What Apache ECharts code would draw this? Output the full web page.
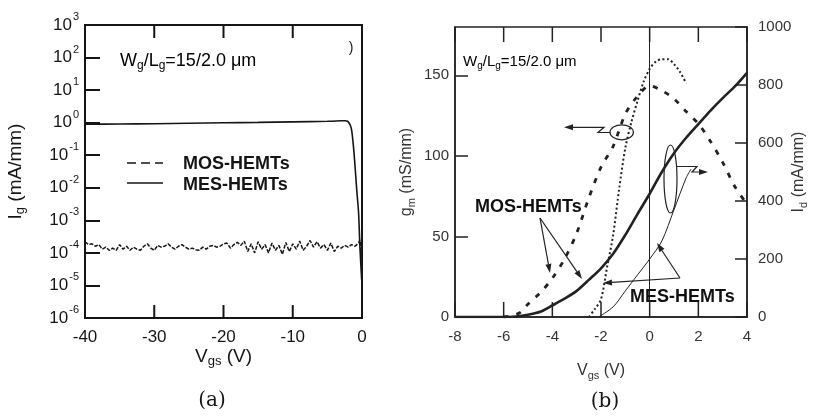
<!DOCTYPE html>
<html>
<head>
<meta charset="utf-8">
<script src="https://cdn.jsdelivr.net/npm/echarts@6/dist/echarts.min.js"></script>
<style>
  html, body { margin: 0; padding: 0; background: #fff; }
  #wrap { position: relative; width: 816px; height: 417px; }
  #chartA { position: absolute; left: 0; top: 0; width: 816px; height: 417px; }
  #chartB { position: absolute; left: 380px; top: 0; width: 436px; height: 392px; filter: blur(0.5px); }
</style>
</head>
<body>
<div id="wrap"><div id="chartA"></div><div id="chartB"></div></div>
<script>
// ---------- (a) gate leakage current Ig versus Vgs ----------
const igXTicks = [-40, -30, -20, -10, 0];

const igMosVgs = [
  -40, -39.5, -39, -38.5, -38, -37.5, -37, -36.5, -36, -35.5,
  -35, -34.5, -34, -33.5, -33, -32.5, -32, -31.5, -31, -30.5,
  -30, -29.5, -29, -28.5, -28, -27.5, -27, -26.5, -26, -25.5,
  -25, -24.5, -24, -23.5, -23, -22.5, -22, -21.5, -21, -20.5,
  -20, -19.5, -19, -18.5, -18, -17.5, -17, -16.5, -16, -15.5,
  -15, -14.5, -14, -13.5, -13, -12.5, -12, -11.5, -11, -10.5,
  -10, -9.5, -9, -8.5, -8, -7.5, -7, -6.5, -6, -5.5,
  -5, -4.5, -4, -3.5, -3, -2.5, -2, -1.5, -1, -0.5,
  -0.3, -0.1, 0
];
const igMos = [
  2.2e-4, 1.8e-4, 1.9e-4, 1.6e-4, 1.8e-4, 1.3e-4, 1.5e-4, 1.2e-4, 1.4e-4, 1.2e-4,
  1.8e-4, 1.3e-4, 1.6e-4, 1.2e-4, 1.5e-4, 1.3e-4, 1.2e-4, 1.6e-4, 1.9e-4, 1.4e-4,
  1.2e-4, 1.7e-4, 1.5e-4, 1.6e-4, 1.9e-4, 1.5e-4, 1.3e-4, 1.6e-4, 1.8e-4, 1.5e-4,
  1.3e-4, 1.4e-4, 1.25e-4, 1.2e-4, 1.5e-4, 1.3e-4, 1.6e-4, 1.7e-4, 1.5e-4, 1.6e-4,
  1.9e-4, 2.0e-4, 1.4e-4, 1.8e-4, 2.1e-4, 1.7e-4, 2.3e-4, 1.1e-4, 1.9e-4, 1.0e-4,
  2.2e-4, 1.3e-4, 1.8e-4, 1.0e-4, 2.0e-4, 1.2e-4, 1.7e-4, 0.9e-4, 2.1e-4, 1.1e-4,
  1.9e-4, 1.3e-4, 2.3e-4, 1.2e-4, 1.6e-4, 2.4e-4, 1.5e-4, 2.2e-4, 1.4e-4, 1.8e-4,
  1.2e-4, 2.0e-4, 1.1e-4, 1.6e-4, 1.4e-4, 1.7e-4, 1.5e-4, 1.8e-4, 1.6e-4, 2.0e-4,
  2.5e-4, 1.0e-4, 0.2e-4
];

const igMesVgs = [-40, -35, -30, -25, -20, -15, -10, -5, -3, -2.4, -2.1, -1.9, -1.7, -1.5, -1.25, -1.0, -0.75, -0.5, -0.3, -0.05];
const igMes = [0.89, 0.91, 0.93, 0.96, 0.99, 1.02, 1.06, 1.1, 1.14, 1.15, 1.1, 1.0, 0.85, 0.6, 0.2, 0.045, 0.008, 0.0018, 0.00015, 0.000015];

const legendNamesA = ['MOS-HEMTs', 'MES-HEMTs'];

// ---------- (b) transconductance gm and drain current Id versus Vgs ----------
const gmTicks = [0, 50, 100, 150];
const idTicks = [0, 200, 400, 600, 800, 1000];
const vgsTicksB = [-8, -6, -4, -2, 0, 2, 4];

const gmMosVgs = [-6, -5.6, -5.3, -5, -4.5, -4, -3.5, -3, -2.5, -2, -1.5, -1, -0.5, 0, 0.5, 1, 1.5, 2, 2.5, 3, 3.5, 4];
const gmMos = [0, 1, 3, 8, 15, 24, 36, 52, 74, 93, 106, 126, 137, 143.5, 140.5, 135.5, 127.5, 120, 109, 96, 81, 70];

const gmMesVgs = [-2.5, -2.25, -2, -1.75, -1.5, -1.25, -1, -0.75, -0.5, -0.25, 0, 0.25, 0.5, 0.75, 1, 1.25, 1.5];
const gmMes = [0, 5, 11, 31, 51, 80, 105, 121, 134, 146, 154, 158.5, 160, 160, 157, 152, 145];

const idMosVgs = [-8, -7, -6, -5.5, -5, -4.5, -4, -3.5, -3, -2.5, -2, -1.5, -1, -0.5, 0, 0.5, 1, 1.5, 2, 2.5, 3, 3.5, 4];
const idMos = [0, 0, 0, 2, 8, 18, 40, 63, 90, 128, 168, 218, 283, 355, 425, 500, 565, 618, 665, 712, 755, 795, 842];

const idMesVgs = [-2.1, -1.5, -1, -0.5, 0, 0.5, 1, 1.5, 1.7];
const idMes = [0, 35, 90, 145, 200, 262, 370, 480, 510];

// ---------- helpers ----------
const zip = (xs, ys) => xs.map((x, i) => [x, ys[i]]);
const SANS = '"Liberation Sans", Arial, Helvetica, sans-serif';
const INK = '#151515';

function subRich(size, subSize, color) {
  return {
    n: { fontSize: size, color: color, fontFamily: SANS },
    s: { fontSize: subSize, color: color, fontFamily: SANS, padding: [Math.round(size * 0.55), 0, 0, 0] }
  };
}

function arrow(points, color) {
  const n = points.length;
  const [x1, y1] = points[n - 2];
  const [x2, y2] = points[n - 1];
  const ang = Math.atan2(y2 - y1, x2 - x1);
  const len = 9, half = 3;
  const bx = x2 - len * Math.cos(ang), by = y2 - len * Math.sin(ang);
  const px = -Math.sin(ang) * half, py = Math.cos(ang) * half;
  return [
    { type: 'polyline', shape: { points: points.slice(0, n - 1).concat([[bx, by]]) },
      style: { stroke: color, lineWidth: 1.2, fill: null } },
    { type: 'polygon', shape: { points: [[x2, y2], [bx + px, by + py], [bx - px, by - py]] },
      style: { fill: color } }
  ];
}

const axisLineStyle = (color, width) => ({ show: true, onZero: false, lineStyle: { color: color, width: width } });
const inwardTicks = (len, color, width, values) => {
  const t = { show: true, inside: true, length: len, lineStyle: { color: color, width: width } };
  if (values) t.customValues = values;
  return t;
};

// Inward tick marks on the top and bottom frame edges, positioned through the
// chart's own x and y scales once the layout exists.
function frameTicks(chart, xValues, yMin, yMax, len, color, width) {
  const bottom = chart.convertToPixel({ yAxisIndex: 0 }, yMin);
  const top = chart.convertToPixel({ yAxisIndex: 0 }, yMax);
  const out = [];
  xValues.forEach(v => {
    const x = chart.convertToPixel({ xAxisIndex: 0 }, v);
    out.push({ type: 'line', z: 100, shape: { x1: x, y1: bottom, x2: x, y2: bottom - len }, style: { stroke: color, lineWidth: width } });
    out.push({ type: 'line', z: 100, shape: { x1: x, y1: top, x2: x, y2: top + len }, style: { stroke: color, lineWidth: width } });
  });
  return out;
}

// ---------- chart (a) ----------
const chartA = echarts.init(document.getElementById('chartA'), null, { renderer: 'canvas' });
chartA.setOption({
  animation: false,
  backgroundColor: '#fff',
  textStyle: { fontFamily: SANS },
  grid: { left: 85, top: 25, width: 277, height: 293, show: true, borderColor: INK, borderWidth: 2, outerBoundsMode: 'none' },
  xAxis: {
    type: 'value', min: -40, max: 0, interval: 10, position: 'bottom',
    axisLine: axisLineStyle(INK, 2),
    axisTick: { show: false },
    axisLabel: { margin: 11, fontSize: 17, color: INK, customValues: igXTicks },
    splitLine: { show: false },
    name: '{n|V}{s|gs}{n| (V)}', nameLocation: 'middle', nameGap: 27, nameMoveOverlap: false,
    nameTextStyle: { rich: subRich(19, 13, INK) }
  },
  yAxis: {
    type: 'log', logBase: 10, min: 1e-6, max: 1e3, splitNumber: 9,
    axisLine: axisLineStyle(INK, 2),
    axisTick: inwardTicks(15, INK, 2),
    splitLine: { show: false },
    axisLabel: {
      margin: 6,
      formatter: v => '{b|10}{p|' + Math.round(Math.log10(v)) + '}',
      rich: {
        b: { fontSize: 17, color: INK, fontFamily: SANS },
        p: { fontSize: 11, color: INK, fontFamily: SANS, padding: [0, 0, 16, 1] }
      }
    },
    name: '{n|I}{s|g}{n| (mA/mm)}', nameLocation: 'middle', nameGap: 58, nameRotate: 90, nameMoveOverlap: false,
    nameTextStyle: { rich: subRich(19, 13, INK) }
  },
  series: [
    { name: legendNamesA[0], type: 'line', data: zip(igMosVgs, igMos), symbol: 'none',
      lineStyle: { color: INK, width: 1.5, type: [4, 1.5] } },
    { name: legendNamesA[1], type: 'line', data: zip(igMesVgs, igMes), symbol: 'none', smooth: 0.3,
      lineStyle: { color: INK, width: 1.6 } }
  ]
});
const graphicsA = [
  // key: dashed and solid samples with bold names
  { type: 'line', shape: { x1: 127, y1: 163, x2: 163, y2: 163 }, style: { stroke: INK, lineWidth: 1.6, lineDash: [9, 5] } },
  { type: 'line', shape: { x1: 127, y1: 183, x2: 163, y2: 183 }, style: { stroke: INK, lineWidth: 1.6 } },
  { type: 'text', x: 183, y: 164,
    style: { text: legendNamesA[0], fontSize: 18, fontWeight: 'bold', fontFamily: SANS, fill: INK, verticalAlign: 'middle', align: 'left' } },
  { type: 'text', x: 183, y: 185,
    style: { text: legendNamesA[1], fontSize: 18, fontWeight: 'bold', fontFamily: SANS, fill: INK, verticalAlign: 'middle', align: 'left' } },
  { type: 'text', x: 120, y: 61,
    style: { text: '{n|W}{s|g}{n|/L}{s|g}{n|=15/2.0 μm}', rich: subRich(18, 12, INK), verticalAlign: 'middle', align: 'left' } },
  { type: 'text', x: 351, y: 48,
    style: { text: ')', fontSize: 14, fontFamily: SANS, fill: INK, verticalAlign: 'middle', align: 'center' } },
  { type: 'text', x: 212, y: 401,
    style: { text: '(a)', fontSize: 20, fontFamily: '"DejaVu Serif", serif', fill: INK, verticalAlign: 'middle', align: 'center' } },
  { type: 'text', x: 605, y: 402,
    style: { text: '(b)', fontSize: 20, fontFamily: '"DejaVu Serif", serif', fill: INK, verticalAlign: 'middle', align: 'center' } }
].concat(frameTicks(chartA, igXTicks, 1e-6, 1e3, 13, INK, 2));
chartA.setOption({ graphic: graphicsA });

// ---------- chart (b) ----------
const INK_B = '#222';
const TXT_B = '#333';
const chartB = echarts.init(document.getElementById('chartB'), null, { renderer: 'canvas' });
chartB.setOption({
  animation: false,
  backgroundColor: 'transparent',
  textStyle: { fontFamily: SANS },
  grid: { left: 75, top: 27, width: 292, height: 290, show: true, borderColor: INK_B, borderWidth: 1.5, outerBoundsMode: 'none' },
  xAxis: {
    type: 'value', min: -8, max: 4, interval: 2, position: 'bottom',
    axisLine: axisLineStyle(INK_B, 1.5),
    axisTick: { show: false },
    axisLabel: { margin: 12, fontSize: 15, color: TXT_B, customValues: vgsTicksB },
    splitLine: { show: false },
    name: '{n|V}{s|gs}{n| (V)}', nameLocation: 'middle', nameGap: 44, nameMoveOverlap: false,
    nameTextStyle: { rich: subRich(16, 11, TXT_B) }
  },
  yAxis: [
    {
      type: 'value', min: 0, max: 180, interval: 50, position: 'left',
      axisLine: axisLineStyle(INK_B, 1.5),
      axisTick: inwardTicks(13, INK_B, 1.5, gmTicks),
      axisLabel: { margin: 6, fontSize: 15, color: TXT_B, customValues: gmTicks },
      splitLine: { show: false },
      name: '{n|g}{s|m}{n| (mS/mm)}', nameLocation: 'middle', nameGap: 38, nameRotate: 90, nameMoveOverlap: false,
      nameTextStyle: { rich: subRich(16, 11, TXT_B) }
    },
    {
      type: 'value', min: 0, max: 1000, interval: 200, position: 'right',
      axisLine: axisLineStyle(INK_B, 1.5),
      axisTick: inwardTicks(12, INK_B, 1.5, idTicks),
      axisLabel: { margin: 11, fontSize: 15, color: TXT_B, customValues: idTicks, formatter: v => String(v) },
      splitLine: { show: false },
      name: '{n|I}{s|d}{n| (mA/mm)}', nameLocation: 'middle', nameGap: 42, nameRotate: 90, nameMoveOverlap: false,
      nameTextStyle: { rich: subRich(16, 11, TXT_B) }
    }
  ],
  series: [
    { name: 'gm MOS-HEMT', type: 'line', yAxisIndex: 0, data: zip(gmMosVgs, gmMos), symbol: 'none', smooth: 0.3,
      lineStyle: { color: INK_B, width: 2.8, type: [5, 8] },
      markLine: { silent: true, symbol: ['none', 'none'], label: { show: false },
        lineStyle: { color: INK_B, width: 1, type: 'solid' }, data: [{ xAxis: 0 }] } },
    { name: 'gm MES-HEMT', type: 'line', yAxisIndex: 0, data: zip(gmMesVgs, gmMes), symbol: 'none', smooth: 0.3,
      lineStyle: { color: INK_B, width: 2, type: [2, 2.5] } },
    { name: 'Id MOS-HEMT', type: 'line', yAxisIndex: 1, data: zip(idMosVgs, idMos), symbol: 'none', smooth: 0.3,
      lineStyle: { color: INK_B, width: 2.6 } },
    { name: 'Id MES-HEMT', type: 'line', yAxisIndex: 1, data: zip(idMesVgs, idMes), symbol: 'none', smooth: 0.3,
      lineStyle: { color: INK_B, width: 1 } }
  ]
});
const graphicsB = [{
  // annotations, laid out relative to the panel's left edge at x = 400
  type: 'group', x: 20, y: 0,
  children: [
    { type: 'text', x: 63, y: 62,
      style: { text: '{n|W}{s|g}{n|/L}{s|g}{n|=15/2.0 μm}', rich: subRich(15, 10, '#444'), verticalAlign: 'middle', align: 'left' } },
    { type: 'text', x: 75, y: 207.5,
      style: { text: 'MOS-HEMTs', fontSize: 18, fontWeight: 'bold', fontFamily: SANS, fill: '#111', verticalAlign: 'middle', align: 'left' } },
    { type: 'text', x: 230, y: 297,
      style: { text: 'MES-HEMTs', fontSize: 18, fontWeight: 'bold', fontFamily: SANS, fill: '#111', verticalAlign: 'middle', align: 'left' } },
    { type: 'ellipse', shape: { cx: 221.7, cy: 132.3, rx: 11.7, ry: 7.5 }, style: { fill: null, stroke: INK_B, lineWidth: 1.2 } },
    { type: 'ellipse', shape: { cx: 270.5, cy: 179, rx: 6.5, ry: 34 }, style: { fill: null, stroke: INK_B, lineWidth: 1.2 } }
  ]
    .concat(arrow([[210, 132.5], [198, 132.5], [204, 127.3], [164, 127.3]], INK_B))
    .concat(arrow([[277, 166.5], [297, 166.5], [292, 172], [308, 172]], INK_B))
    .concat(arrow([[140, 218], [150, 273]], INK_B))
    .concat(arrow([[140, 218], [182, 279]], INK_B))
    .concat(arrow([[280, 278], [203, 283]], INK_B))
    .concat(arrow([[280, 278], [257, 243]], INK_B))
}].concat(frameTicks(chartB, vgsTicksB, 0, 180, 15, INK_B, 1.5));
chartB.setOption({ graphic: graphicsB });
</script>
</body>
</html>
